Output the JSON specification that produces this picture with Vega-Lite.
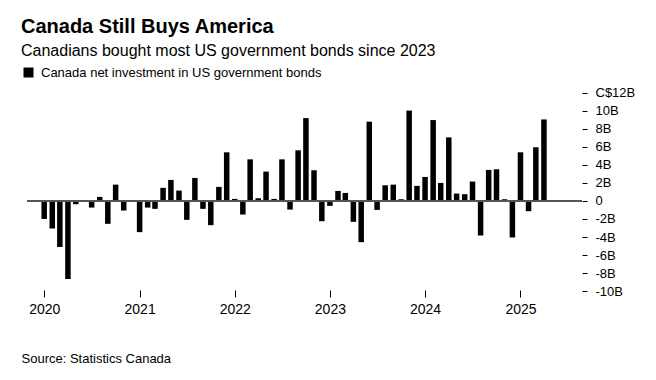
{
  "$schema": "https://vega.github.io/schema/vega-lite/v6.json",
  "width": 559,
  "height": 205,
  "autosize": {"type": "none"},
  "padding": {"left": 22, "top": 88, "right": 75, "bottom": 87},
  "background": "white",
  "config": {"view": {"stroke": null}, "font": "Liberation Sans", "axis": {"labelOverlap": false}},
  "title": {
    "text": "Canada Still Buys America",
    "subtitle": "Canadians bought most US government bonds since 2023",
    "anchor": "start",
    "frame": "group",
    "fontSize": 20,
    "fontWeight": "bold",
    "color": "#000000",
    "subtitleFontSize": 16,
    "subtitleColor": "#000000",
    "subtitlePadding": 6,
    "offset": 7,
    "dx": -1
  },
  "data": {
    "values": [
      {"date": "2020-01-01", "value": -2.0, "series": "Canada net investment in US government bonds"},
      {"date": "2020-02-01", "value": -3.06, "series": "Canada net investment in US government bonds"},
      {"date": "2020-03-01", "value": -5.1, "series": "Canada net investment in US government bonds"},
      {"date": "2020-04-01", "value": -8.65, "series": "Canada net investment in US government bonds"},
      {"date": "2020-05-01", "value": -0.37, "series": "Canada net investment in US government bonds"},
      {"date": "2020-06-01", "value": 0.1, "series": "Canada net investment in US government bonds"},
      {"date": "2020-07-01", "value": -0.74, "series": "Canada net investment in US government bonds"},
      {"date": "2020-08-01", "value": 0.44, "series": "Canada net investment in US government bonds"},
      {"date": "2020-09-01", "value": -2.54, "series": "Canada net investment in US government bonds"},
      {"date": "2020-10-01", "value": 1.8, "series": "Canada net investment in US government bonds"},
      {"date": "2020-11-01", "value": -1.07, "series": "Canada net investment in US government bonds"},
      {"date": "2020-12-01", "value": 0.1, "series": "Canada net investment in US government bonds"},
      {"date": "2021-01-01", "value": -3.46, "series": "Canada net investment in US government bonds"},
      {"date": "2021-02-01", "value": -0.74, "series": "Canada net investment in US government bonds"},
      {"date": "2021-03-01", "value": -0.88, "series": "Canada net investment in US government bonds"},
      {"date": "2021-04-01", "value": 1.44, "series": "Canada net investment in US government bonds"},
      {"date": "2021-05-01", "value": 2.32, "series": "Canada net investment in US government bonds"},
      {"date": "2021-06-01", "value": 1.14, "series": "Canada net investment in US government bonds"},
      {"date": "2021-07-01", "value": -2.1, "series": "Canada net investment in US government bonds"},
      {"date": "2021-08-01", "value": 2.54, "series": "Canada net investment in US government bonds"},
      {"date": "2021-09-01", "value": -0.88, "series": "Canada net investment in US government bonds"},
      {"date": "2021-10-01", "value": -2.69, "series": "Canada net investment in US government bonds"},
      {"date": "2021-11-01", "value": 1.55, "series": "Canada net investment in US government bonds"},
      {"date": "2021-12-01", "value": 5.38, "series": "Canada net investment in US government bonds"},
      {"date": "2022-01-01", "value": 0.22, "series": "Canada net investment in US government bonds"},
      {"date": "2022-02-01", "value": -1.51, "series": "Canada net investment in US government bonds"},
      {"date": "2022-03-01", "value": 4.6, "series": "Canada net investment in US government bonds"},
      {"date": "2022-04-01", "value": 0.29, "series": "Canada net investment in US government bonds"},
      {"date": "2022-05-01", "value": 3.24, "series": "Canada net investment in US government bonds"},
      {"date": "2022-06-01", "value": 0.22, "series": "Canada net investment in US government bonds"},
      {"date": "2022-07-01", "value": 4.6, "series": "Canada net investment in US government bonds"},
      {"date": "2022-08-01", "value": -0.96, "series": "Canada net investment in US government bonds"},
      {"date": "2022-09-01", "value": 5.6, "series": "Canada net investment in US government bonds"},
      {"date": "2022-10-01", "value": 9.17, "series": "Canada net investment in US government bonds"},
      {"date": "2022-11-01", "value": 3.39, "series": "Canada net investment in US government bonds"},
      {"date": "2022-12-01", "value": -2.25, "series": "Canada net investment in US government bonds"},
      {"date": "2023-01-01", "value": -0.55, "series": "Canada net investment in US government bonds"},
      {"date": "2023-02-01", "value": 1.1, "series": "Canada net investment in US government bonds"},
      {"date": "2023-03-01", "value": 0.88, "series": "Canada net investment in US government bonds"},
      {"date": "2023-04-01", "value": -2.32, "series": "Canada net investment in US government bonds"},
      {"date": "2023-05-01", "value": -4.57, "series": "Canada net investment in US government bonds"},
      {"date": "2023-06-01", "value": 8.77, "series": "Canada net investment in US government bonds"},
      {"date": "2023-07-01", "value": -1.0, "series": "Canada net investment in US government bonds"},
      {"date": "2023-08-01", "value": 1.73, "series": "Canada net investment in US government bonds"},
      {"date": "2023-09-01", "value": 1.8, "series": "Canada net investment in US government bonds"},
      {"date": "2023-10-01", "value": 0.18, "series": "Canada net investment in US government bonds"},
      {"date": "2023-11-01", "value": 10.0, "series": "Canada net investment in US government bonds"},
      {"date": "2023-12-01", "value": 1.66, "series": "Canada net investment in US government bonds"},
      {"date": "2024-01-01", "value": 2.65, "series": "Canada net investment in US government bonds"},
      {"date": "2024-02-01", "value": 8.95, "series": "Canada net investment in US government bonds"},
      {"date": "2024-03-01", "value": 1.99, "series": "Canada net investment in US government bonds"},
      {"date": "2024-04-01", "value": 7.03, "series": "Canada net investment in US government bonds"},
      {"date": "2024-05-01", "value": 0.81, "series": "Canada net investment in US government bonds"},
      {"date": "2024-06-01", "value": 0.74, "series": "Canada net investment in US government bonds"},
      {"date": "2024-07-01", "value": 2.14, "series": "Canada net investment in US government bonds"},
      {"date": "2024-08-01", "value": -3.83, "series": "Canada net investment in US government bonds"},
      {"date": "2024-09-01", "value": 3.43, "series": "Canada net investment in US government bonds"},
      {"date": "2024-10-01", "value": 3.5, "series": "Canada net investment in US government bonds"},
      {"date": "2024-11-01", "value": 0.18, "series": "Canada net investment in US government bonds"},
      {"date": "2024-12-01", "value": -4.05, "series": "Canada net investment in US government bonds"},
      {"date": "2025-01-01", "value": 5.38, "series": "Canada net investment in US government bonds"},
      {"date": "2025-02-01", "value": -1.14, "series": "Canada net investment in US government bonds"},
      {"date": "2025-03-01", "value": 5.93, "series": "Canada net investment in US government bonds"},
      {"date": "2025-04-01", "value": 9.02, "series": "Canada net investment in US government bonds"}
    ]
  },
  "layer": [
    {
      "mark": {"type": "bar", "width": 5.5},
      "encoding": {
        "x": {
          "field": "date",
          "type": "temporal",
          "scale": {
            "type": "utc",
            "domain": [
              {"year": 2019, "month": 10, "date": 27, "utc": true},
              {"year": 2025, "month": 8, "date": 2, "utc": true}
            ]
          },
          "axis": {
            "values": [
              {"year": 2020, "month": 1, "date": 1, "utc": true},
              {"year": 2021, "month": 1, "date": 1, "utc": true},
              {"year": 2022, "month": 1, "date": 1, "utc": true},
              {"year": 2023, "month": 1, "date": 1, "utc": true},
              {"year": 2024, "month": 1, "date": 1, "utc": true},
              {"year": 2025, "month": 1, "date": 1, "utc": true}
            ],
            "tickCount": 20,
            "format": "%Y",
            "domain": false,
            "grid": false,
            "offset": -3,
            "tickSize": 7,
            "tickColor": "#000000",
            "labelFontSize": 14,
            "labelColor": "#000000",
            "labelPadding": 5,
            "labelOverlap": false,
            "title": "Source: Statistics Canada",
            "titleFontSize": 13,
            "titleFontWeight": "normal",
            "titleColor": "#000000",
            "titleAnchor": "start",
            "titleAlign": "left",
            "titleBaseline": "alphabetic",
            "titleX": -1,
            "titleY": 72
          }
        },
        "y": {
          "field": "value",
          "type": "quantitative",
          "scale": {"domain": [-10.2, 12.5], "nice": false, "zero": false},
          "axis": {
            "orient": "right",
            "values": [-10, -8, -6, -4, -2, 0, 2, 4, 6, 8, 10, 12],
            "tickCount": 30,
            "labelExpr": "datum.value == 12 ? 'C$12B' : (datum.value == 0 ? '0' : datum.value + 'B')",
            "labelOverlap": false,
            "domain": false,
            "grid": false,
            "offset": 1,
            "tickSize": 5,
            "tickColor": "#000000",
            "labelPadding": 8,
            "labelFontSize": 13,
            "labelColor": "#000000",
            "title": null
          }
        },
        "color": {
          "field": "series",
          "type": "nominal",
          "scale": {"range": ["#000000"]},
          "legend": {
            "orient": "none",
            "legendX": 0,
            "legendY": -22,
            "title": null,
            "symbolType": "square",
            "symbolSize": 100,
            "symbolStrokeWidth": 0,
            "labelFontSize": 13,
            "labelColor": "#000000",
            "labelOffset": 6,
            "labelLimit": 500,
            "padding": 0
          }
        }
      }
    },
    {
      "mark": {"type": "rule", "color": "#555555", "strokeWidth": 1},
      "encoding": {
        "y": {"datum": 0, "type": "quantitative"},
        "x": {"datum": {"year": 2019, "month": 10, "date": 27, "utc": true}, "type": "temporal"},
        "x2": {"datum": {"year": 2025, "month": 8, "date": 24, "utc": true}}
      }
    }
  ]
}
